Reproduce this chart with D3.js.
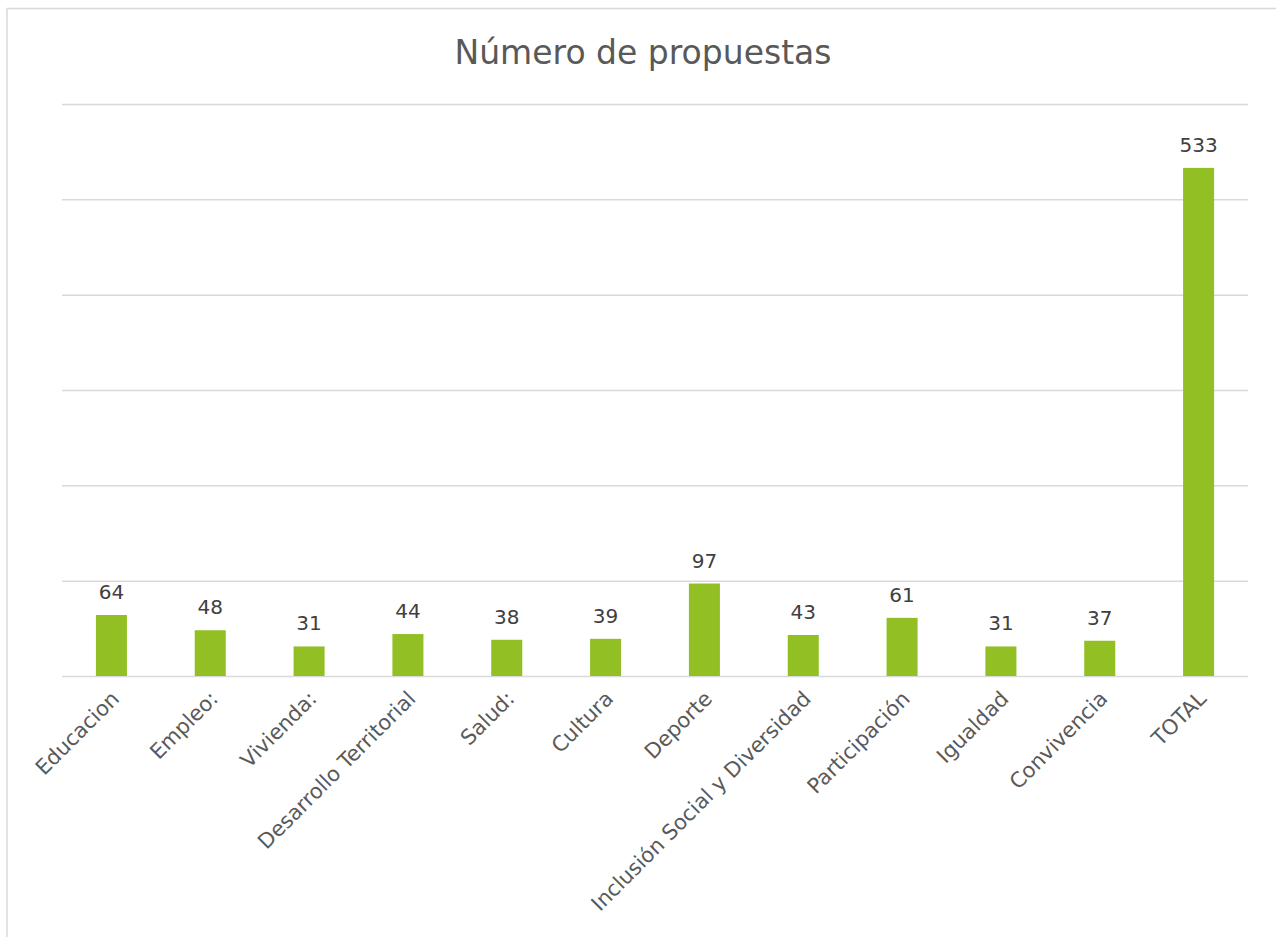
<!DOCTYPE html>
<html>
<head>
<meta charset="utf-8">
<script src="https://cdn.jsdelivr.net/npm/d3@7"></script>
<style>
  body { margin: 0; background: #fff; }
  svg { display: block; }
</style>
</head>
<body>
<div id="chart"></div>
<script>
// Número de propuestas por área
const categories = ['Educacion', 'Empleo:', 'Vivienda:', 'Desarrollo Territorial', 'Salud:', 'Cultura',
    'Deporte', 'Inclusión Social y Diversidad', 'Participación', 'Igualdad', 'Convivencia', 'TOTAL'];
const values = [64, 48, 31, 44, 38, 39, 97, 43, 61, 31, 37, 533];
const yTicks = [0, 100, 200, 300, 400, 500, 600];

const width = 1276, height = 937;
const margin = { top: 104, right: 28, bottom: 261, left: 62 };
const chartWidth = width - margin.left - margin.right;
const chartHeight = height - margin.top - margin.bottom;
const font = "'DejaVu Sans', sans-serif";

const svg = d3.select('#chart').append('svg')
    .attr('width', width)
    .attr('height', height);

// outer chart border
svg.append('rect')
    .attr('x', 7).attr('y', 8.5)
    .attr('width', width + 20).attr('height', height + 20)
    .attr('fill', 'none')
    .attr('stroke', '#d9d9d9')
    .attr('stroke-width', 1.5);

svg.append('text')
    .attr('x', 643)
    .attr('y', 64)
    .attr('text-anchor', 'middle')
    .attr('fill', '#595959')
    .style('font-family', font)
    .style('font-size', '33px')
    .text('Número de propuestas');

const g = svg.append('g')
    .attr('transform', `translate(${margin.left},${margin.top})`);

const x = d3.scaleBand()
    .domain(categories)
    .range([0, chartWidth])
    .paddingInner(0.686)
    .paddingOuter(0.343);

const y = d3.scaleLinear()
    .domain([0, 600])
    .range([chartHeight, 0]);

// gridlines
g.append('g')
    .call(d3.axisLeft(y).tickValues(yTicks).tickSize(-chartWidth).tickFormat(''))
    .call(a => a.select('.domain').remove())
    .call(a => a.selectAll('line').attr('stroke', '#d9d9d9').attr('stroke-width', 1.5));

g.selectAll('.bar')
    .data(values)
    .enter()
    .append('rect')
    .attr('class', 'bar')
    .attr('x', (d, i) => x(categories[i]))
    .attr('y', d => y(d))
    .attr('width', x.bandwidth())
    .attr('height', d => chartHeight - y(d))
    .attr('fill', '#92c024');

g.selectAll('.val')
    .data(values)
    .enter()
    .append('text')
    .attr('class', 'val')
    .attr('x', (d, i) => x(categories[i]) + x.bandwidth() / 2)
    .attr('y', d => y(d) - 16)
    .attr('text-anchor', 'middle')
    .attr('fill', '#404040')
    .style('font-family', font)
    .style('font-size', '20px')
    .text(d => d);

// category axis, rotated labels
const xAxis = g.append('g')
    .attr('transform', `translate(0,${chartHeight})`)
    .call(d3.axisBottom(x).tickSize(0).tickPadding(0));
xAxis.select('.domain').remove();
xAxis.selectAll('text')
    .attr('fill', '#595959')
    .style('font-family', font)
    .style('font-size', '21px')
    .attr('text-anchor', 'end')
    .attr('dy', null)
    .attr('y', 0)
    .attr('transform', 'translate(9,24) rotate(-45)');
</script>
</body>
</html>
